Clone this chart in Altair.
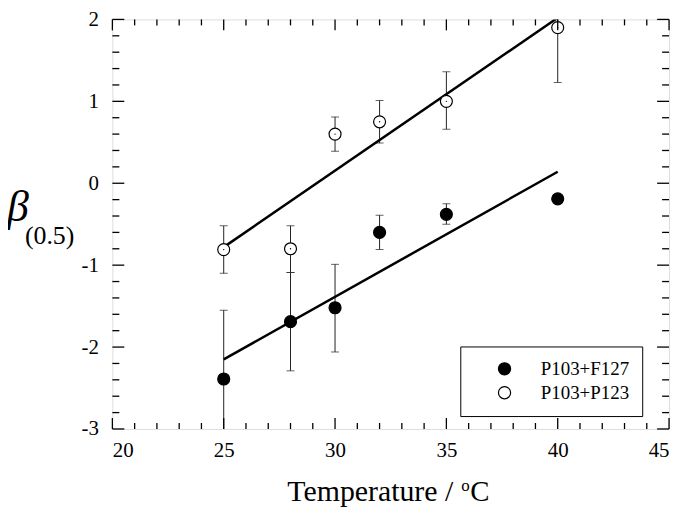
import altair as alt
import pandas as pd

# ---- data ----
series_names = ["P103+F127", "P103+P123"]

temp = [25, 28, 30, 32, 35, 40]

beta_f127 = [-2.39, -1.69, -1.52, -0.60, -0.38, -0.19]
lo_f127 = [-3.23, -2.29, -2.06, -0.81, -0.50, None]
hi_f127 = [-1.55, -1.09, -0.99, -0.39, -0.25, None]

beta_p123 = [-0.81, -0.80, 0.60, 0.75, 1.00, 1.90]
lo_p123 = [-1.10, -1.09, 0.39, 0.49, 0.66, 1.23]
hi_p123 = [-0.52, -0.52, 0.81, 1.01, 1.36, 2.57]

fit_temp = [25, 40]
fit_f127 = [-2.15, 0.14]
fit_p123 = [-0.78, 2.02]

x_major = [20, 25, 30, 35, 40, 45]
x_minor = [v for v in range(21, 45) if v % 5 != 0]
y_major = [-3, -2, -1, 0, 1, 2]
y_minor = [round(-3 + 0.2 * i, 1) for i in range(1, 25) if i % 5 != 0]

# ---- tables ----
pts = pd.DataFrame({
    "T": temp * 2,
    "beta": beta_f127 + beta_p123,
    "lo": lo_f127 + lo_p123,
    "hi": hi_f127 + hi_p123,
    "series": [series_names[0]] * len(temp) + [series_names[1]] * len(temp),
})
fits = pd.DataFrame({
    "T": fit_temp * 2,
    "beta": fit_f127 + fit_p123,
    "series": [series_names[0]] * 2 + [series_names[1]] * 2,
})

W, H = 560, 412
FONT = "'Liberation Serif', 'Times New Roman', 'DejaVu Serif', serif"

xs = alt.Scale(domain=[20, 45], nice=False, zero=False)
ys = alt.Scale(domain=[-3, 2], nice=False, zero=False)

x_axis = alt.Axis(values=x_major, ticks=False, domain=False, grid=False, title=None,
                  labelFont=FONT, labelFontSize=21, labelColor="black", labelPadding=11,
                  labelExpr="'' + datum.value")
y_axis = alt.Axis(values=y_major, ticks=False, domain=False, grid=False, title=None,
                  labelFont=FONT, labelFontSize=21, labelColor="black", labelPadding=14,
                  labelExpr="'' + datum.value")

base = alt.Chart(pts)

err = base.transform_filter("isValid(datum.lo)").mark_rule(
    color="#222", strokeWidth=1, clip=True
).encode(
    x=alt.X("T:Q", scale=xs, axis=x_axis),
    y=alt.Y("lo:Q", scale=ys, axis=y_axis),
    y2="hi:Q",
)

caps = base.transform_filter("isValid(datum.lo)").transform_fold(
    ["lo", "hi"], as_=["end", "val"]
).mark_tick(orient="horizontal", size=8, thickness=1, color="#222", clip=True).encode(
    x=alt.X("T:Q", scale=xs),
    y=alt.Y("val:Q", scale=ys),
)

lines = alt.Chart(fits).mark_line(color="black", strokeWidth=2.5, clip=True).encode(
    x=alt.X("T:Q", scale=xs),
    y=alt.Y("beta:Q", scale=ys),
    detail="series:N",
)

points = base.mark_point(filled=True, stroke="black", strokeWidth=1.2, opacity=1,
                         size=145, clip=True).encode(
    x=alt.X("T:Q", scale=xs),
    y=alt.Y("beta:Q", scale=ys),
    fill=alt.Fill("series:N", scale=alt.Scale(domain=series_names, range=["black", "white"]),
                  legend=alt.Legend(
                      title=None, orient="none", legendX=350, legendY=329,
                      padding=13, strokeColor="black", fillColor="white",
                      symbolType="circle", symbolSize=150, symbolStrokeColor="black",
                      symbolStrokeWidth=1.2, symbolOffset=22, labelOffset=27,
                      rowPadding=4, labelFont=FONT, labelFontSize=19, labelColor="black",
                      labelLimit=200)),
)

dots = base.transform_filter(alt.datum.series == series_names[1]).mark_circle(
    color="black", size=2, opacity=1
).encode(
    x=alt.X("T:Q", scale=xs),
    y=alt.Y("beta:Q", scale=ys),
)

# inward tick marks on all four sides
def xticks(vals, L):
    d = pd.DataFrame({"v": vals})
    b = alt.Chart(d).mark_rule(color="black", strokeWidth=1.3)
    return [
        b.encode(x=alt.X("v:Q", scale=xs), y=alt.value(H), y2=alt.value(H - L)),
        b.encode(x=alt.X("v:Q", scale=xs), y=alt.value(0), y2=alt.value(L)),
    ]

def yticks(vals, L):
    d = pd.DataFrame({"v": vals})
    b = alt.Chart(d).mark_rule(color="black", strokeWidth=1.3)
    return [
        b.encode(y=alt.Y("v:Q", scale=ys), x=alt.value(0), x2=alt.value(L)),
        b.encode(y=alt.Y("v:Q", scale=ys), x=alt.value(W), x2=alt.value(W - L)),
    ]

tick_layers = xticks(x_major, 11) + xticks(x_minor, 6) + yticks(y_major, 12) + yticks(y_minor, 7)

# axis titles as text
tdf = pd.DataFrame({"a": [0]})
tb = alt.Chart(tdf)
xtitle1 = tb.mark_text(text="Temperature /", font=FONT, fontSize=30, align="left",
                       baseline="alphabetic", color="black").encode(x=alt.value(176), y=alt.value(484))
xtitle2 = tb.mark_text(text="o", font=FONT, fontSize=17, align="left",
                       baseline="alphabetic", color="black").encode(x=alt.value(351), y=alt.value(474))
xtitle3 = tb.mark_text(text="C", font=FONT, fontSize=29, align="left",
                       baseline="alphabetic", color="black").encode(x=alt.value(360), y=alt.value(484))
ytitle1 = tb.mark_text(text="β", font=FONT, fontSize=44, fontStyle="italic", align="left",
                       baseline="alphabetic", color="black").encode(x=alt.value(-106), y=alt.value(203))
ytitle2 = tb.mark_text(text="(0.5)", font=FONT, fontSize=26, align="left",
                       baseline="alphabetic", color="black").encode(x=alt.value(-88), y=alt.value(226))

chart = alt.layer(
    err, caps, lines, points, dots, *tick_layers,
    xtitle1, xtitle2, xtitle3, ytitle1, ytitle2
).properties(
    width=W, height=H,
    padding={"left": 105, "top": 10, "right": 8, "bottom": 78},
    autosize=alt.AutoSizeParams(type="none"),
).configure_view(
    stroke="black", strokeWidth=2
).configure(background="white")

chart.save("out.html", embed_options={"renderer": "svg", "actions": False})
